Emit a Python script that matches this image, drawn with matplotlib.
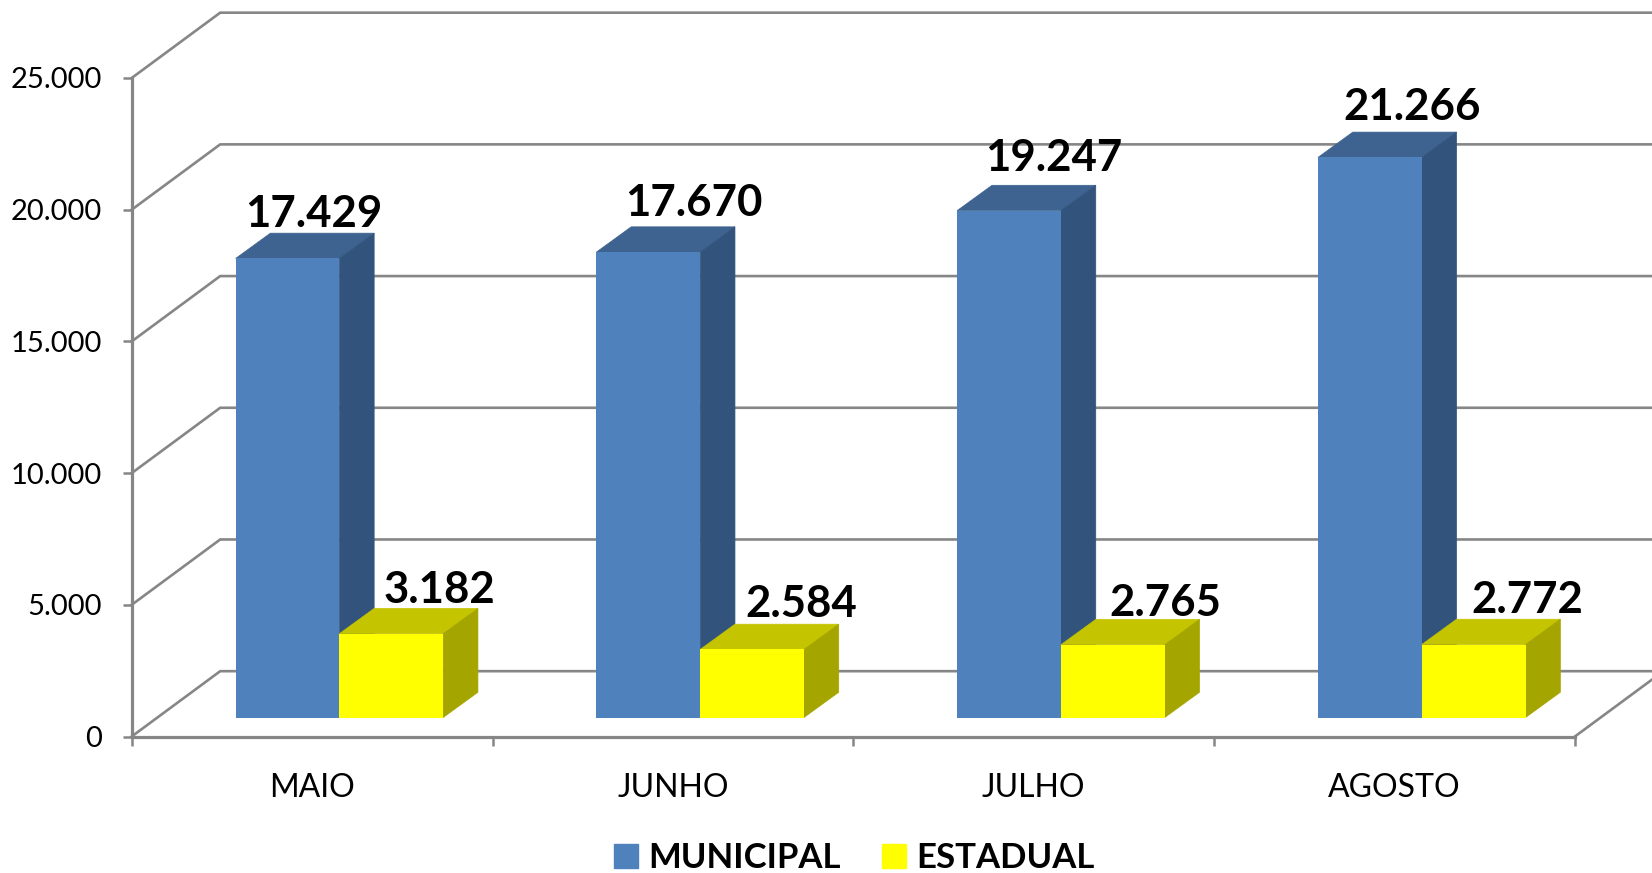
import matplotlib.pyplot as plt
from matplotlib.patches import Patch, Polygon

meses = ['MAIO', 'JUNHO', 'JULHO', 'AGOSTO']
municipal = [17429, 17670, 19247, 21266]
estadual = [3182, 2584, 2765, 2772]
y_ticks = [0, 5000, 10000, 15000, 20000, 25000]
y_labels = ['0', '5.000', '10.000', '15.000', '20.000', '25.000']

plt.rcParams['font.family'] = ['Lato', 'DejaVu Sans']
cinza = '#868686'

# fake 3d: depth offsets in data units
wall_dx, wall_dy = 0.2453, 2480
bar_dx, bar_dy = 0.0964, 960
base = 720
bar_w = 0.2876
bar_x0 = 0.288

fig = plt.figure(figsize=(16.52, 8.73), dpi=100)
ax = fig.add_axes([131.7 / 1652, 136.5 / 873, 1443.2 / 1652, 658.5 / 873])
ax.set_xlim(0, 4)
ax.set_ylim(0, 25000)

# back wall
for v in y_ticks:
    ax.plot([0, wall_dx, 4.6], [v, v + wall_dy, v + wall_dy], color=cinza, lw=1.9,
            clip_on=False, zorder=1, solid_joinstyle='miter')
ax.plot([4, 4 + wall_dx], [0, wall_dy], color=cinza, lw=1.9, clip_on=False, zorder=1)


def barra(x, valor, frente, topo, lado):
    y1 = base + valor
    ax.add_patch(Polygon([(x, y1), (x + bar_w, y1), (x + bar_w + bar_dx, y1 + bar_dy), (x + bar_dx, y1 + bar_dy)],
                         color=topo, lw=0.5, zorder=3, clip_on=False))
    ax.add_patch(Polygon([(x + bar_w, base), (x + bar_w + bar_dx, base + bar_dy),
                          (x + bar_w + bar_dx, y1 + bar_dy), (x + bar_w, y1)],
                         color=lado, lw=0.5, zorder=3, clip_on=False))
    ax.bar(x, valor, bar_w, bottom=base, align='edge', color=frente, zorder=3, clip_on=False)


def rotulo(x, valor, dx, dy):
    ax.annotate(f'{valor:,}'.replace(',', '.'), (x + bar_w / 2, base + valor), xytext=(dx, dy),
                textcoords='offset pixels', ha='center', va='center', fontsize=31.5,
                fontweight='bold', color='black', zorder=5)


# label offsets in pixels, hand placed in the original
off_m = [(26, 44), (46, 49), (45, 53), (42, 50)]
off_e = [(48, 44), (49, 45), (52, 42), (54, 45)]

for i in range(4):
    x1 = i + bar_x0
    x2 = x1 + bar_w
    barra(x1, municipal[i], '#4F81BD', '#3E6390', '#32547C')
    barra(x2, estadual[i], '#FFFF00', '#C4C400', '#A5A500')
    rotulo(x1, municipal[i], *off_m[i])
    rotulo(x2, estadual[i], *off_e[i])

for s in ['top', 'right']:
    ax.spines[s].set_visible(False)
for s in ['left', 'bottom']:
    ax.spines[s].set_color(cinza)
    ax.spines[s].set_linewidth(2.3)
    ax.spines[s].set_zorder(2)

ax.set_yticks(y_ticks, y_labels)
ax.set_xticks(range(5), [''] * 5)
ax.set_xticks([0.5, 1.5, 2.5, 3.5], meses, minor=True)
ax.tick_params(axis='both', which='major', color=cinza, width=1.8, length=6.5, labelsize=21, pad=15)
ax.tick_params(axis='x', which='minor', length=0, labelsize=23, pad=26)
ax.patch.set_alpha(0)

handles = [Patch(color='#4F81BD', label='MUNICIPAL'), Patch(color='#FFFF00', label='ESTADUAL')]
fig.legend(handles=handles, loc='center', bbox_to_anchor=(811 / 1568, 1 - 815 / 829), ncol=2, frameon=False,
           prop={'weight': 'bold', 'size': 25}, handlelength=0.67, handleheight=0.67,
           handletextpad=0.3, columnspacing=1.2, borderpad=0, borderaxespad=0)

fig.savefig('out.png', dpi=100)
